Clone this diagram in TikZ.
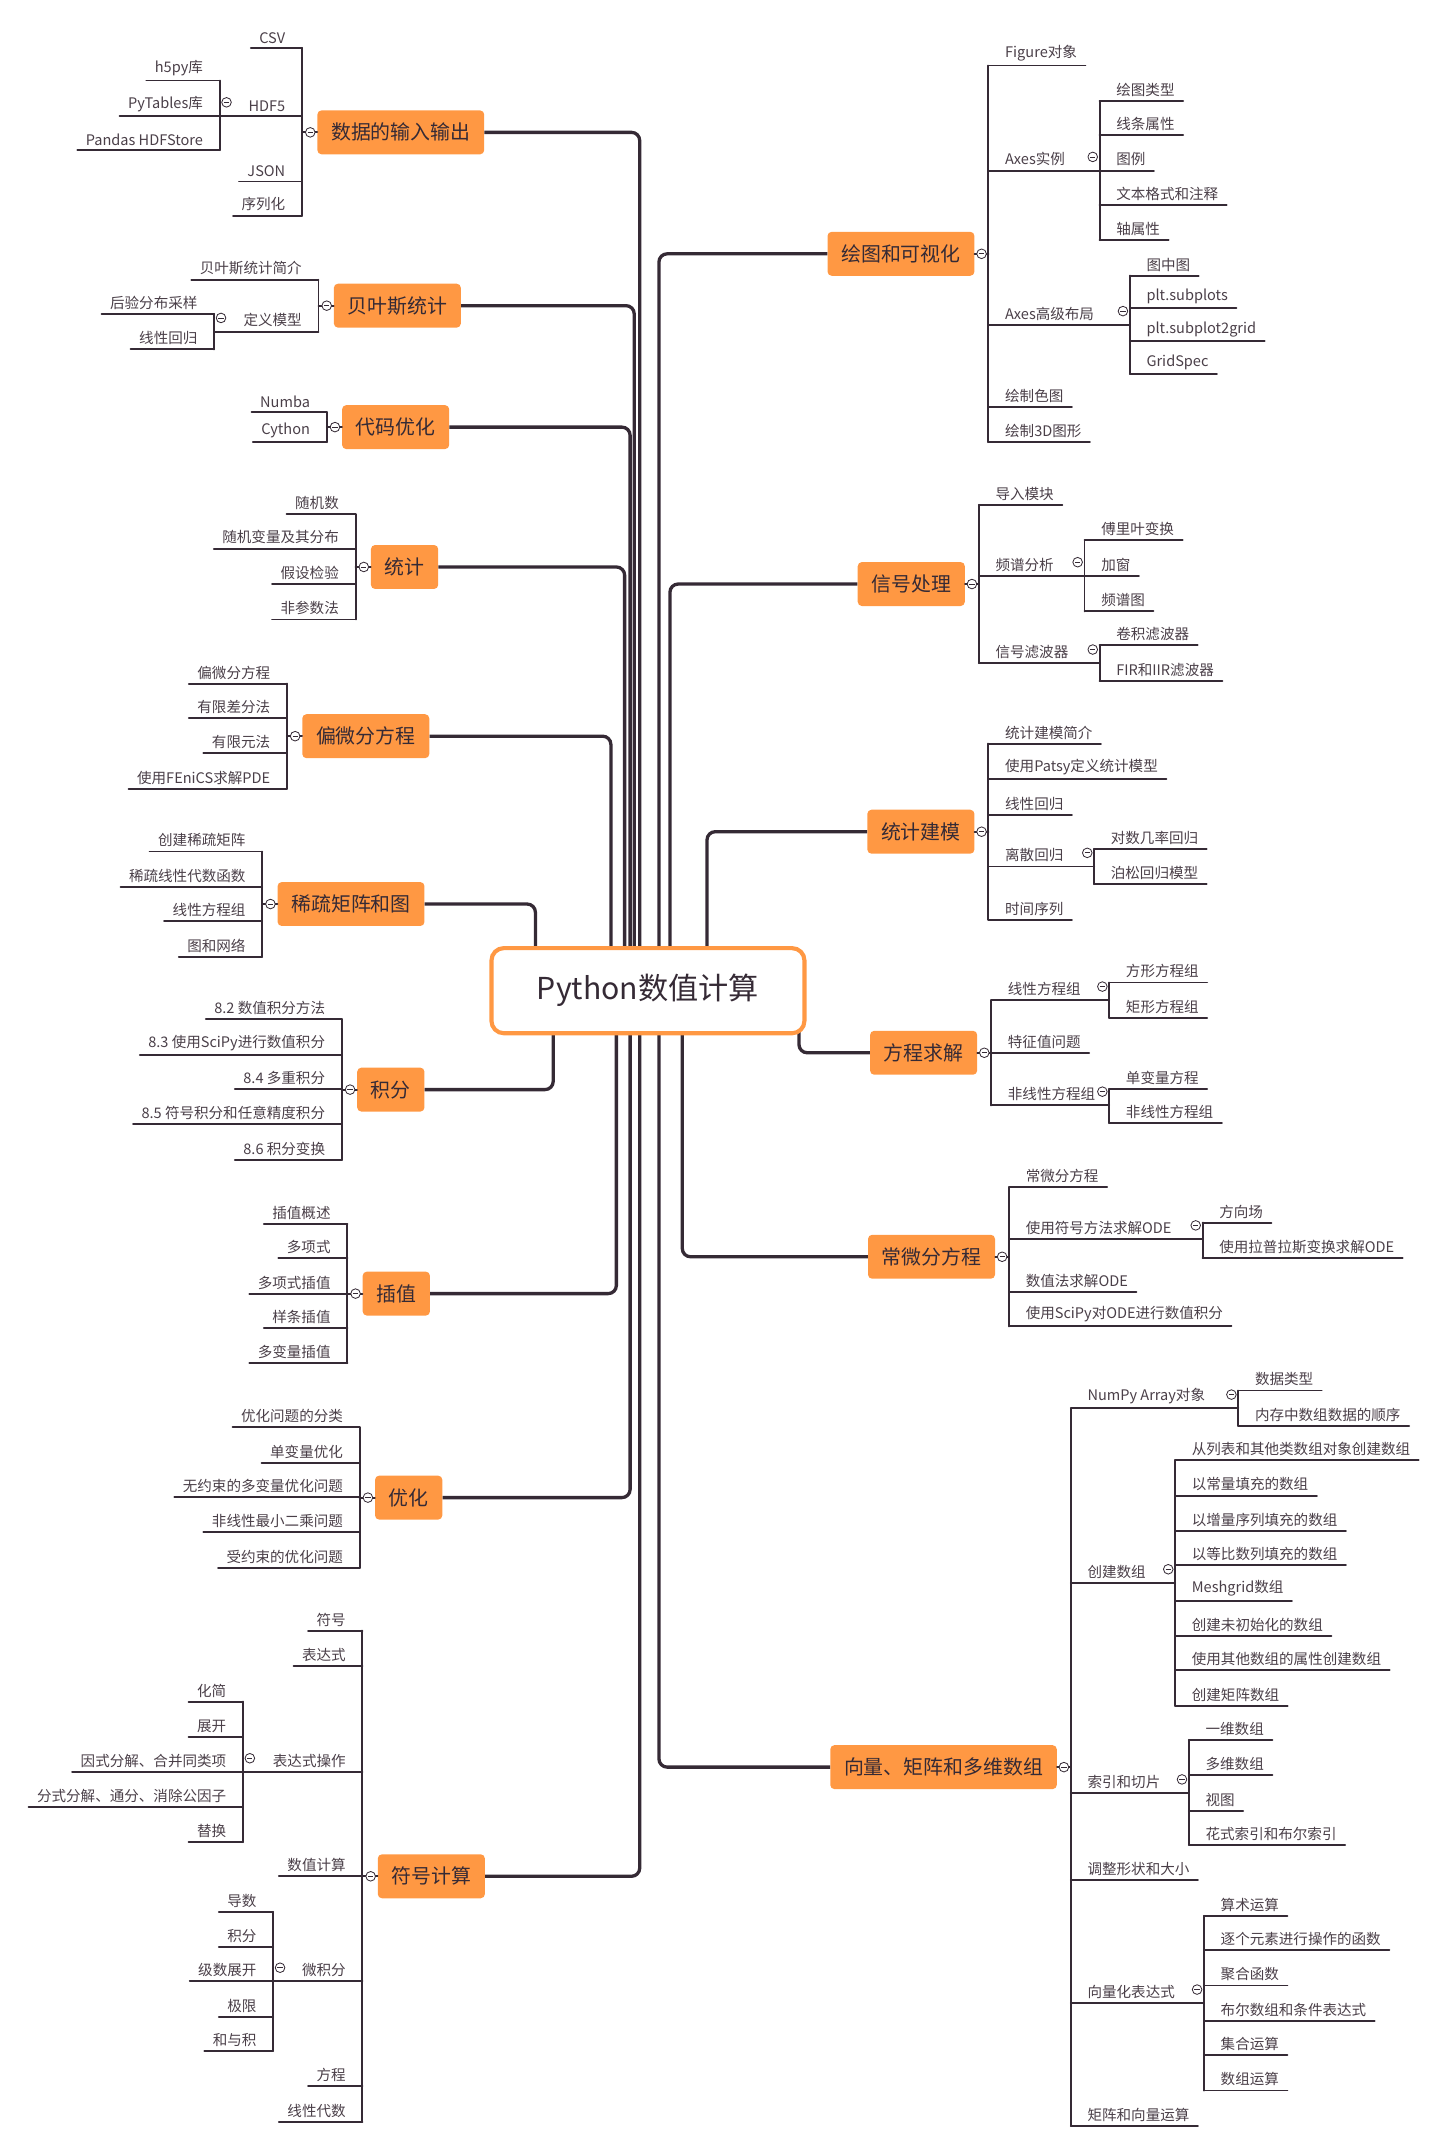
\documentclass[tikz,border=0pt]{standalone}
\usepackage{fontspec}
\setmainfont{Noto Sans CJK SC}
\definecolor{org}{HTML}{FF9843}
\definecolor{dk}{HTML}{352A35}
\definecolor{tx}{HTML}{4A3F48}
\tikzset{
 leaf/.style={inner xsep=6pt,inner ysep=3pt,font=\fontsize{10.6}{12}\selectfont,text=tx},
 ul/.style={draw=dk,line width=1.4pt,line cap=round},
 trunk/.style={draw=dk,line width=2.4pt,rounded corners=6pt},
 topic/.style={fill=org,rounded corners=3pt,minimum height=32pt,inner xsep=10pt,font=\fontsize{14.5}{16}\selectfont,text=dk},
 circ/.style={circle,draw=dk,fill=white,line width=0.6pt,minimum size=7pt,inner sep=0pt,
   path picture={\draw[line width=0.6pt] ([xshift=1.6pt]path picture bounding box.west) -- ([xshift=-1.6pt]path picture bounding box.east);}},
}
\newcommand\Lf[4]{\node[leaf,anchor=south east] (#1) at (#2-6,#3) {#4}; \coordinate (#1e) at (#2,#3); \draw[ul] (#1.south west) -- (#1e);}
\newcommand\Rf[4]{\node[leaf,anchor=south west] (#1) at (#2+6,#3) {#4}; \coordinate (#1e) at (#2,#3); \draw[ul] (#1e) -- (#1.south east);}
\newcommand\Lp[5]{\node[leaf,anchor=south east] (#1) at (#2-6,#3) {#4}; \coordinate (#1e) at (#2,#3); \coordinate (#1s) at (#5,#3); \draw[ul] (#1s) -- (#1e); \node[circ] (#1c) at (#5+5,#3-10) {};}
\newcommand\Rp[5]{\node[leaf,anchor=south west] (#1) at (#2+6,#3) {#4}; \coordinate (#1e) at (#2,#3); \coordinate (#1s) at (#5,#3); \draw[ul] (#1e) -- (#1s); \node[circ] (#1c) at (#5-5,#3-10) {};}
\newcommand\Bk[4]{\coordinate (#1t) at (#2,#3); \coordinate (#1b) at (#2,#4); \draw[ul] (#1t) -- (#1b);}
\newcommand\Tl[5]{\coordinate (#1m) at (#2,#3); \node[topic,anchor=west] (#1) at (#2+11,#3) {#4}; \coordinate (#1j) at (#5); \draw[trunk] (#1.east) -| (#1j); \draw[ul] (#1m) -- (#1.west); \node[circ] (#1c) at (#2+6,#3) {};}
\newcommand\Tr[5]{\coordinate (#1m) at (#2,#3); \node[topic,anchor=east] (#1) at (#2-10,#3) {#4}; \coordinate (#1j) at (#5); \draw[trunk] (#1.west) -| (#1j); \draw[ul] (#1.east) -- (#1m); \node[circ] (#1c) at (#2-5,#3) {};}
\begin{document}
\begin{tikzpicture}[x=1pt,y=-0.994pt]
\useasboundingbox (0,-2) rectangle (1050,1567);
% ---- left
\Tl{t1}{220}{95}{数据的输入输出}{466,700}
\Bk{k1}{220}{33}{156}
\Lf{a1}{220}{33}{CSV}
\Lp{a2}{220}{83}{HDF5}{160}
\Bk{k1a}{160}{57}{108}
\Lf{a21}{160}{57}{h5py库}
\Lf{a22}{160}{83}{PyTables库}
\Lf{a23}{160}{108}{Pandas HDFStore}
\Lf{a3}{220}{131}{JSON}
\Lf{a4}{220}{156}{序列化}

\Tl{t2}{232}{222}{贝叶斯统计}{462,700}
\Bk{k2}{232}{203}{241}
\Lf{b1}{232}{203}{贝叶斯统计简介}
\Lp{b2}{232}{241}{定义模型}{156}
\Bk{k2a}{156}{228}{254}
\Lf{b21}{156}{228}{后验分布采样}
\Lf{b22}{156}{254}{线性回归}

\Tl{t3}{238}{311}{代码优化}{459,700}
\Bk{k3}{238}{300}{322}
\Lf{c1}{238}{300}{Numba}
\Lf{c2}{238}{322}{Cython}

\Tl{t4}{259}{413.5}{统计}{455,700}
\Bk{k4}{259}{375}{452}
\Lf{d1}{259}{375}{随机数}
\Lf{d2}{259}{400}{随机变量及其分布}
\Lf{d3}{259}{426}{假设检验}
\Lf{d4}{259}{452}{非参数法}

\Tl{t5}{209}{537.5}{偏微分方程}{445,700}
\Bk{k5}{209}{499}{576}
\Lf{e1}{209}{499}{偏微分方程}
\Lf{e2}{209}{524}{有限差分法}
\Lf{e3}{209}{550}{有限元法}
\Lf{e4}{209}{576}{使用FEniCS求解PDE}

\Tl{t6}{191}{660.5}{稀疏矩阵和图}{390,700}
\Bk{k6}{191}{622}{699}
\Lf{f1}{191}{622}{创建稀疏矩阵}
\Lf{f2}{191}{648}{稀疏线性代数函数}
\Lf{f3}{191}{673}{线性方程组}
\Lf{f4}{191}{699}{图和网络}

\Tl{t7}{249}{796.5}{积分}{403,750}
\Bk{k7}{249}{745}{848}
\Lf{g1}{249}{745}{8.2 数值积分方法}
\Lf{g2}{249}{771}{8.3 使用SciPy进行数值积分}
\Lf{g3}{249}{796}{8.4 多重积分}
\Lf{g4}{249}{822}{8.5 符号积分和任意精度积分}
\Lf{g5}{249}{848}{8.6 积分变换}

\Tl{t8}{253}{946}{插值}{449,750}
\Bk{k8}{253}{895}{997}
\Lf{h1}{253}{895}{插值概述}
\Lf{h2}{253}{920}{多项式}
\Lf{h3}{253}{946}{多项式插值}
\Lf{h4}{253}{971}{样条插值}
\Lf{h5}{253}{997}{多变量插值}

\Tl{t9}{262}{1095.5}{优化}{459,750}
\Bk{k9}{262}{1044}{1147}
\Lf{i1}{262}{1044}{优化问题的分类}
\Lf{i2}{262}{1070}{单变量优化}
\Lf{i3}{262}{1095}{无约束的多变量优化问题}
\Lf{i4}{262}{1121}{非线性最小二乘问题}
\Lf{i5}{262}{1147}{受约束的优化问题}

\Tl{t10}{264}{1373}{符号计算}{466,750}
\Bk{k10}{264}{1193}{1553}
\Lf{j1}{264}{1193}{符号}
\Lf{j2}{264}{1219}{表达式}
\Lp{j3}{264}{1296.5}{表达式操作}{177}
\Bk{k10a}{177}{1245}{1348}
\Lf{j31}{177}{1245}{化简}
\Lf{j32}{177}{1271}{展开}
\Lf{j33}{177}{1296.5}{因式分解、合并同类项}
\Lf{j34}{177}{1322}{分式分解、通分、消除公因子}
\Lf{j35}{177}{1348}{替换}
\Lf{j4}{264}{1373}{数值计算}
\Lp{j5}{264}{1450}{微积分}{199}
\Bk{k10b}{199}{1399}{1501}
\Lf{j51}{199}{1399}{导数}
\Lf{j52}{199}{1425}{积分}
\Lf{j53}{199}{1450}{级数展开}
\Lf{j54}{199}{1476}{极限}
\Lf{j55}{199}{1501}{和与积}
\Lf{j6}{264}{1527}{方程}
\Lf{j7}{264}{1553}{线性代数}

% ---- right
\Tr{t11}{720}{184}{绘图和可视化}{480,700}
\Bk{k11}{720}{46}{322}
\Rf{m1}{720}{46}{Figure对象}
\Rp{m2}{720}{123}{Axes实例}{801}
\Bk{k11a}{801}{72}{174}
\Rf{m21}{801}{72}{绘图类型}
\Rf{m22}{801}{97}{线条属性}
\Rf{m23}{801}{123}{图例}
\Rf{m24}{801}{148}{文本格式和注释}
\Rf{m25}{801}{174}{轴属性}
\Rp{m3}{720}{236}{Axes高级布局}{823}
\Bk{k11b}{823}{200}{272}
\Rf{m31}{823}{200}{图中图}
\Rf{m32}{823}{224}{plt.subplots}
\Rf{m33}{823}{248}{plt.subplot2grid}
\Rf{m34}{823}{272}{GridSpec}
\Rf{m4}{720}{296}{绘制色图}
\Rf{m5}{720}{322}{绘制3D图形}

\Tr{t12}{713}{426}{信号处理}{488,700}
\Bk{k12}{713}{368}{484}
\Rf{n1}{713}{368}{导入模块}
\Rp{n2}{713}{420}{频谱分析}{790}
\Bk{k12a}{790}{394}{446}
\Rf{n21}{790}{394}{傅里叶变换}
\Rf{n22}{790}{420}{加窗}
\Rf{n23}{790}{446}{频谱图}
\Rp{n3}{713}{484}{信号滤波器}{801}
\Bk{k12b}{801}{471}{497}
\Rf{n31}{801}{471}{卷积滤波器}
\Rf{n32}{801}{497}{FIR和IIR滤波器}

\Tr{t13}{720}{607.5}{统计建模}{515,700}
\Bk{k13}{720}{543}{672}
\Rf{o1}{720}{543}{统计建模简介}
\Rf{o2}{720}{569}{使用Patsy定义统计模型}
\Rf{o3}{720}{595}{线性回归}
\Rp{o4}{720}{633}{离散回归}{797}
\Bk{k13a}{797}{620}{646}
\Rf{o41}{797}{620}{对数几率回归}
\Rf{o42}{797}{646}{泊松回归模型}
\Rf{o5}{720}{672}{时间序列}

\Tr{t14}{722}{769.5}{方程求解}{582,748}
\Bk{k14}{722}{731}{808}
\Rp{p1}{722}{731}{线性方程组}{808}
\Bk{k14a}{808}{718}{744}
\Rf{p11}{808}{718}{方形方程组}
\Rf{p12}{808}{744}{矩形方程组}
\Rf{p2}{722}{770}{特征值问题}
\Rp{p3}{722}{808}{非线性方程组}{808}
\Bk{k14b}{808}{796}{821}
\Rf{p31}{808}{796}{单变量方程}
\Rf{p32}{808}{821}{非线性方程组}

\Tr{t15}{735}{919}{常微分方程}{497,750}
\Bk{k15}{735}{868}{970}
\Rf{q1}{735}{868}{常微分方程}
\Rp{q2}{735}{906}{使用符号方法求解ODE}{876}
\Bk{k15a}{876}{894}{920}
\Rf{q21}{876}{894}{方向场}
\Rf{q22}{876}{920}{使用拉普拉斯变换求解ODE}
\Rf{q3}{735}{945}{数值法求解ODE}
\Rf{q4}{735}{970}{使用SciPy对ODE进行数值积分}

\Tr{t16}{780}{1293}{向量、矩阵和多维数组}{480,750}
\Bk{k16}{780}{1030}{1556}
\Rp{r1}{780}{1030}{NumPy Array对象}{902}
\Bk{k16a}{902}{1017}{1043}
\Rf{r11}{902}{1017}{数据类型}
\Rf{r12}{902}{1043}{内存中数组数据的顺序}
\Rp{r2}{780}{1158}{创建数组}{856}
\Bk{k16b}{856}{1068}{1248}
\Rf{r21}{856}{1068}{从列表和其他类数组对象创建数组}
\Rf{r22}{856}{1094}{以常量填充的数组}
\Rf{r23}{856}{1120}{以增量序列填充的数组}
\Rf{r24}{856}{1145}{以等比数列填充的数组}
\Rf{r25}{856}{1171}{Meshgrid数组}
\Rf{r26}{856}{1197}{创建未初始化的数组}
\Rf{r27}{856}{1222}{使用其他数组的属性创建数组}
\Rf{r28}{856}{1248}{创建矩阵数组}
\Rp{r3}{780}{1312}{索引和切片}{866}
\Bk{k16c}{866}{1273}{1350}
\Rf{r31}{866}{1273}{一维数组}
\Rf{r32}{866}{1299}{多维数组}
\Rf{r33}{866}{1325}{视图}
\Rf{r34}{866}{1350}{花式索引和布尔索引}
\Rf{r4}{780}{1376}{调整形状和大小}
\Rp{r5}{780}{1466}{向量化表达式}{877}
\Bk{k16d}{877}{1402}{1530}
\Rf{r51}{877}{1402}{算术运算}
\Rf{r52}{877}{1427}{逐个元素进行操作的函数}
\Rf{r53}{877}{1453}{聚合函数}
\Rf{r54}{877}{1479}{布尔数组和条件表达式}
\Rf{r55}{877}{1504}{集合运算}
\Rf{r56}{877}{1530}{数组运算}
\Rf{r6}{780}{1556}{矩阵和向量运算}

% ---- center
\node[draw=org,line width=3pt,fill=white,rounded corners=9pt,minimum width=228pt,minimum height=62pt,font=\fontsize{22}{26}\selectfont,text=dk] (root) at (472,724) {Python数值计算};
\end{tikzpicture}
\end{document}
